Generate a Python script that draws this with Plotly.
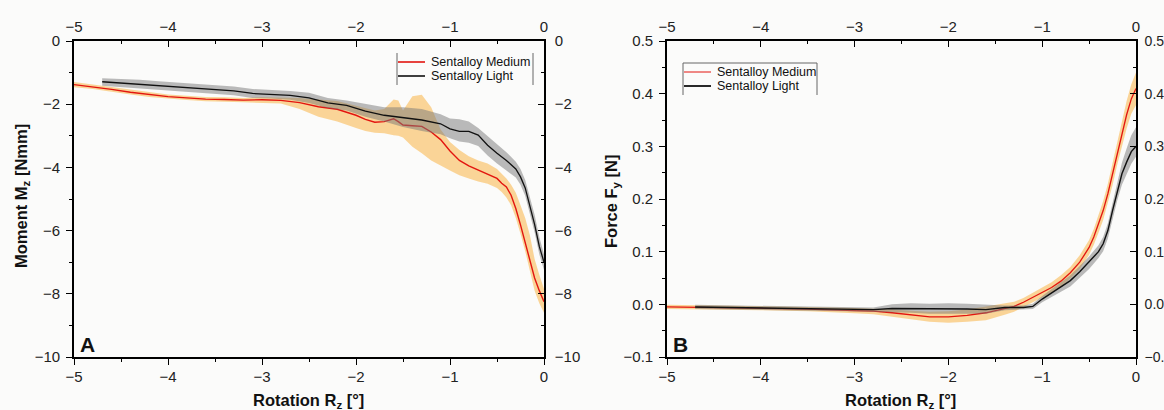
import plotly.graph_objects as go

W, H = 1164, 410

# ---------------- Panel A: moment Mz vs rotation Rz ----------------
a_medium_x = [-5.0, -4.8, -4.6, -4.4, -4.2, -4.0, -3.8, -3.6, -3.4, -3.2, -3.0, -2.8, -2.6,
              -2.4, -2.2, -2.0, -1.9, -1.8, -1.7, -1.6, -1.55, -1.5, -1.4, -1.3, -1.2, -1.1,
              -1.0, -0.9, -0.8, -0.7, -0.6, -0.5, -0.45, -0.4, -0.35, -0.3, -0.25, -0.2,
              -0.15, -0.1, -0.05, 0.0]
a_medium_mean = [-1.38, -1.45, -1.53, -1.62, -1.70, -1.76, -1.80, -1.84, -1.85, -1.87, -1.86,
                 -1.88, -1.95, -2.08, -2.16, -2.35, -2.48, -2.57, -2.55, -2.46, -2.55, -2.66,
                 -2.68, -2.70, -2.88, -3.12, -3.48, -3.78, -3.95, -4.08, -4.20, -4.35, -4.50,
                 -4.62, -4.88, -5.30, -5.82, -6.40, -7.00, -7.50, -7.90, -8.25]
a_medium_upper = [-1.30, -1.38, -1.46, -1.55, -1.63, -1.69, -1.73, -1.77, -1.78, -1.80, -1.78,
                  -1.79, -1.80, -1.85, -1.90, -2.05, -2.12, -2.20, -2.15, -1.85, -1.88, -2.20,
                  -1.75, -1.70, -2.10, -2.80, -3.20, -3.45, -3.65, -3.78, -3.88, -4.05, -4.20,
                  -4.35, -4.55, -4.80, -5.20, -5.60, -6.15, -6.90, -7.40, -7.85]
a_medium_lower = [-1.46, -1.52, -1.60, -1.69, -1.77, -1.83, -1.87, -1.91, -1.92, -1.94, -1.95,
                  -1.98, -2.15, -2.40, -2.55, -2.75, -2.85, -2.90, -2.92, -2.98, -3.00, -3.05,
                  -3.35, -3.55, -3.78, -3.95, -4.10, -4.25, -4.35, -4.45, -4.52, -4.65, -4.78,
                  -4.95, -5.20, -5.60, -6.10, -6.65, -7.25, -7.90, -8.30, -8.60]

a_light_x = [-4.7, -4.5, -4.3, -4.1, -3.9, -3.7, -3.5, -3.3, -3.1, -2.9, -2.7, -2.5, -2.3,
             -2.1, -1.9, -1.7, -1.5, -1.3, -1.1, -1.0, -0.9, -0.8, -0.7, -0.6, -0.5, -0.4,
             -0.3, -0.25, -0.2, -0.15, -0.1, -0.05, 0.0]
a_light_mean = [-1.29, -1.33, -1.36, -1.41, -1.45, -1.50, -1.54, -1.58, -1.66, -1.68, -1.72,
                -1.80, -1.96, -2.04, -2.22, -2.35, -2.42, -2.50, -2.62, -2.78, -2.86, -2.86,
                -2.98, -3.30, -3.55, -3.78, -4.05, -4.30, -4.65, -5.20, -5.80, -6.50, -7.00]
a_light_upper = [-1.18, -1.20, -1.23, -1.27, -1.31, -1.36, -1.40, -1.44, -1.52, -1.54, -1.58,
                 -1.64, -1.80, -1.88, -2.00, -2.10, -2.10, -2.15, -2.32, -2.45, -2.48, -2.55,
                 -2.75, -3.00, -3.25, -3.52, -3.82, -4.05, -4.40, -4.95, -5.50, -6.20, -6.75]
a_light_lower = [-1.42, -1.46, -1.50, -1.55, -1.59, -1.64, -1.68, -1.72, -1.80, -1.82, -1.86,
                 -1.96, -2.12, -2.20, -2.40, -2.55, -2.72, -2.85, -2.95, -3.08, -3.18, -3.22,
                 -3.32, -3.62, -3.88, -4.10, -4.32, -4.55, -4.90, -5.45, -6.05, -6.75, -7.25]

# ---------------- Panel B: force Fy vs rotation Rz ----------------
b_medium_x = [-5.0, -4.5, -4.0, -3.5, -3.0, -2.8, -2.6, -2.4, -2.2, -2.0, -1.8, -1.6, -1.4,
              -1.3, -1.2, -1.1, -1.0, -0.9, -0.8, -0.7, -0.6, -0.5, -0.45, -0.4, -0.35, -0.3,
              -0.25, -0.2, -0.15, -0.1, -0.05, 0.0]
b_medium_mean = [-0.005, -0.006, -0.007, -0.009, -0.012, -0.013, -0.016, -0.020, -0.024,
                 -0.024, -0.021, -0.016, -0.008, -0.004, 0.004, 0.013, 0.022, 0.032, 0.044,
                 0.060, 0.080, 0.108, 0.128, 0.152, 0.178, 0.210, 0.247, 0.287, 0.325, 0.360,
                 0.390, 0.410]
b_medium_upper = [-0.001, -0.002, -0.003, -0.005, -0.007, -0.008, -0.010, -0.012, -0.014,
                  -0.013, -0.010, -0.004, 0.002, 0.005, 0.012, 0.022, 0.031, 0.042, 0.055,
                  0.071, 0.093, 0.122, 0.143, 0.168, 0.196, 0.229, 0.268, 0.309, 0.349,
                  0.386, 0.418, 0.440]
b_medium_lower = [-0.009, -0.010, -0.011, -0.013, -0.017, -0.019, -0.023, -0.028, -0.033,
                  -0.035, -0.033, -0.030, -0.020, -0.014, -0.005, 0.004, 0.013, 0.022, 0.033,
                  0.049, 0.067, 0.094, 0.113, 0.136, 0.160, 0.191, 0.226, 0.265, 0.301,
                  0.334, 0.362, 0.378]

b_light_x = [-4.7, -4.3, -3.9, -3.5, -3.1, -2.8, -2.6, -2.4, -2.2, -2.0, -1.8, -1.6, -1.4,
             -1.2, -1.1, -1.0, -0.9, -0.8, -0.7, -0.6, -0.5, -0.4, -0.35, -0.3, -0.25, -0.2,
             -0.15, -0.1, -0.05, 0.0]
b_light_mean = [-0.005, -0.006, -0.007, -0.008, -0.009, -0.010, -0.008, -0.008, -0.009,
                -0.008, -0.009, -0.010, -0.006, -0.006, -0.004, 0.010, 0.022, 0.033, 0.045,
                0.062, 0.080, 0.100, 0.115, 0.140, 0.178, 0.215, 0.248, 0.270, 0.290, 0.300]
b_light_upper = [-0.001, -0.002, -0.003, -0.004, -0.005, -0.006, 0.000, 0.002, 0.001, 0.002,
                 0.001, -0.001, -0.002, -0.002, 0.001, 0.016, 0.029, 0.041, 0.055, 0.073,
                 0.091, 0.112, 0.128, 0.154, 0.193, 0.232, 0.269, 0.296, 0.321, 0.336]
b_light_lower = [-0.009, -0.010, -0.011, -0.012, -0.013, -0.014, -0.015, -0.016, -0.018,
                 -0.018, -0.018, -0.018, -0.011, -0.010, -0.009, 0.004, 0.014, 0.024, 0.034,
                 0.050, 0.067, 0.088, 0.101, 0.125, 0.161, 0.197, 0.227, 0.247, 0.267, 0.280]

# ---------------- ticks ----------------
rot_ticks = [-5, -4, -3, -2, -1, 0]
rot_labels = ["\u22125", "\u22124", "\u22123", "\u22122", "\u22121", "0"]
moment_ticks = [-10, -8, -6, -4, -2, 0]
moment_labels = ["\u221210", "\u22128", "\u22126", "\u22124", "\u22122", "0"]
force_ticks = [-0.1, 0.0, 0.1, 0.2, 0.3, 0.4, 0.5]
force_labels = ["\u22120.1", "0.0", "0.1", "0.2", "0.3", "0.4", "0.5"]

series_names = ["Sentalloy Medium", "Sentalloy Light"]

RED = "#e3150f"
BLACK = "#111111"
ORANGE_FILL = "rgba(250,180,70,0.55)"
GRAY_FILL = "rgba(120,120,120,0.5)"
FONT = "Liberation Sans, Arial, sans-serif"


def px(x):
    return x / W


def py(y):
    return 1 - y / H


fig = go.Figure()


def band(x, lo, hi, color, xa, ya):
    fig.add_trace(go.Scatter(
        x=list(x) + list(x)[::-1], y=list(hi) + list(lo)[::-1],
        fill="toself", fillcolor=color, line=dict(width=0),
        mode="lines", hoverinfo="skip", showlegend=False, xaxis=xa, yaxis=ya))


def curve(x, y, color, width, name, xa, ya):
    fig.add_trace(go.Scatter(
        x=x, y=y, mode="lines", line=dict(color=color, width=width),
        name=name, showlegend=False, xaxis=xa, yaxis=ya))


# panel A
band(a_medium_x, a_medium_lower, a_medium_upper, ORANGE_FILL, "x", "y")
curve(a_medium_x, a_medium_mean, RED, 1.4, series_names[0], "x", "y")
band(a_light_x, a_light_lower, a_light_upper, GRAY_FILL, "x", "y")
curve(a_light_x, a_light_mean, BLACK, 1.3, series_names[1], "x", "y")

# panel B
band(b_medium_x, b_medium_lower, b_medium_upper, ORANGE_FILL, "x2", "y2")
curve(b_medium_x, b_medium_mean, RED, 1.3, series_names[0], "x2", "y2")
band(b_light_x, b_light_lower, b_light_upper, GRAY_FILL, "x2", "y2")
curve(b_light_x, b_light_mean, BLACK, 1.4, series_names[1], "x2", "y2")

# placeholder traces so the mirrored top/right axes get drawn
for xa, ya in [("x3", "y3"), ("x4", "y4")]:
    fig.add_trace(go.Scatter(x=[None], y=[None], mode="lines", showlegend=False,
                             hoverinfo="skip", xaxis=xa, yaxis=ya))

tickfont = dict(family=FONT, size=15, color="#222")


def axis(rng, ticks, labels, minor_dtick, direction, domain=None, **kw):
    d = dict(range=rng, tickmode="array", tickvals=ticks, ticktext=labels,
             ticks=direction, ticklen=6, tickwidth=1.2, tickcolor="black",
             minor=dict(ticks=direction, ticklen=3, dtick=minor_dtick, tick0=rng[0],
                        tickcolor="black", tickwidth=1.2, showgrid=False),
             showline=True, linecolor="black", linewidth=1.6, showgrid=False,
             zeroline=False, tickfont=tickfont, fixedrange=True, automargin=False)
    if domain is not None:
        d["domain"] = domain
    d.update(kw)
    return d


dom_a = [px(74), px(544)]
dom_b = [px(667), px(1136)]
dom_y = [py(357), py(41)]

fig.update_layout(
    width=W, height=H,
    margin=dict(l=0, r=0, t=0, b=0, autoexpand=False),
    paper_bgcolor="#fbfbfa", plot_bgcolor="rgba(0,0,0,0)",
    showlegend=False,
    font=dict(family=FONT, color="#222"),
    xaxis=axis([-5, 0], rot_ticks, rot_labels, 0.5, "outside", dom_a, anchor="y",
               ticklabelstandoff=-1),
    yaxis=axis([-10, 0], moment_ticks, moment_labels, 1, "outside", dom_y, anchor="x",
               ticklabelstandoff=3),
    xaxis2=axis([-5, 0], rot_ticks, rot_labels, 0.5, "outside", dom_b, anchor="y2",
                ticklabelstandoff=-1),
    yaxis2=axis([-0.1, 0.5], force_ticks, force_labels, 0.05, "outside", dom_y, anchor="x2",
                ticklabelstandoff=3),
    xaxis3=axis([-5, 0], rot_ticks, rot_labels, 0.5, "inside", None, overlaying="x",
                side="top", anchor="y", ticklabelstandoff=1),
    yaxis3=axis([-10, 0], moment_ticks, moment_labels, 1, "inside", None, overlaying="y",
                side="right", anchor="x", ticklabelstandoff=6),
    xaxis4=axis([-5, 0], rot_ticks, rot_labels, 0.5, "inside", None, overlaying="x2",
                side="top", anchor="y2", ticklabelstandoff=1),
    yaxis4=axis([-0.1, 0.5], force_ticks, force_labels, 0.05, "inside", None,
                overlaying="y2", side="right", anchor="x2", ticklabelstandoff=4,
                tickfont=dict(family=FONT, size=14, color="#222")),
)

title_font = dict(family=FONT, size=16.5, color="#111")
annotations = [
    dict(text="<b>Rotation R<sub>z</sub> [°]</b>", x=px(308), y=py(401), font=title_font),
    dict(text="<b>Rotation R<sub>z</sub> [°]</b>", x=px(900), y=py(401), font=title_font),
    dict(text="<b>Moment M<sub>z</sub> [Nmm]</b>", x=px(22), y=py(196), textangle=-90,
         font=title_font),
    dict(text="<b>Force F<sub>y</sub> [N]</b>", x=px(612), y=py(201), textangle=-90,
         font=title_font),
    dict(text="<b>A</b>", x=px(87), y=py(344), font=dict(family=FONT, size=21, color="#111")),
    dict(text="<b>B</b>", x=px(680), y=py(344), font=dict(family=FONT, size=21, color="#111")),
]

legend_font = dict(family=FONT, size=12.5, color="#111")
shapes = []


def legend(x0, x1, y_first, y_second, red_w, black_w, top_line):
    # sample lines
    shapes.append(dict(type="line", xref="paper", yref="paper", x0=px(x0 + 1), x1=px(x0 + 28),
                       y0=py(y_first), y1=py(y_first), line=dict(color=RED, width=red_w)))
    shapes.append(dict(type="line", xref="paper", yref="paper", x0=px(x0 + 1), x1=px(x0 + 28),
                       y0=py(y_second), y1=py(y_second), line=dict(color=BLACK, width=black_w)))
    for name, yy in zip(series_names, [y_first, y_second]):
        annotations.append(dict(text=name, x=px(x0 + 32), y=py(yy), xanchor="left",
                                font=legend_font))
    top = y_first - 9
    bot = y_second + 9
    for xx in (x0, x1):
        shapes.append(dict(type="line", xref="paper", yref="paper", x0=px(xx), x1=px(xx),
                           y0=py(top), y1=py(bot), line=dict(color="#666", width=1)))
    if top_line:
        shapes.append(dict(type="line", xref="paper", yref="paper", x0=px(x0), x1=px(x1),
                           y0=py(top), y1=py(top), line=dict(color="#666", width=1)))


legend(397, 533, 62, 76, 1.6, 1.6, False)
legend(683, 817, 72, 86, 1.0, 1.8, True)

for a in annotations:
    a.update(xref="paper", yref="paper", showarrow=False)
    a.setdefault("xanchor", "center")
    a.setdefault("yanchor", "middle")

fig.update_layout(annotations=annotations, shapes=shapes)

fig.write_html("out.html")
